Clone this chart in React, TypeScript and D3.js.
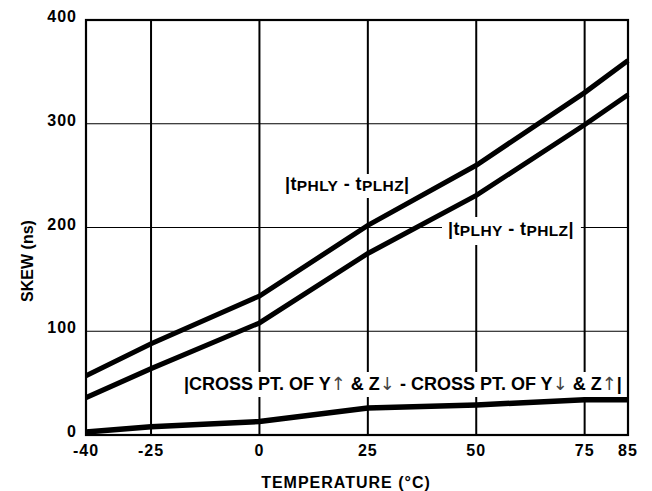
import React, { useEffect, useRef } from "react";
import * as d3 from "d3";

const temps = [-40, -25, 0, 25, 50, 75, 85];
const skewPhlyPlhz = [57, 88, 134, 202, 260, 330, 361];
const skewPlhyPhlz = [36, 64, 108, 175, 231, 299, 328];
const skewCross = [3, 8, 13, 26, 29, 34, 34];
const xTicks = [-40, -25, 0, 25, 50, 75, 85];
const yTicks = [0, 100, 200, 300, 400];
const xGrid = [-25, 0, 25, 50, 75];
const yGrid = [100, 200, 300];
const crossParts: [string, boolean][] = [
  ["|CROSS PT. OF Y", false],
  ["\u2191", true],
  [" & Z", false],
  ["\u2193", true],
  [" - CROSS PT. OF Y", false],
  ["\u2193", true],
  [" & Z", false],
  ["\u2191", true],
  ["|", false],
];

const W = 652;
const H = 491;
const FONT = "'Liberation Sans', Arial, Helvetica, sans-serif";

export default function App() {
  const ref = useRef<SVGSVGElement | null>(null);

  useEffect(() => {
    document.body.style.margin = "0";
    const svg = d3.select(ref.current);
    svg.selectAll("*").remove();

    const x = d3.scaleLinear().domain([-40, 85]).range([86, 628]);
    const y = d3.scaleLinear().domain([0, 400]).range([435, 20]);

    const g = svg.append("g");

    g.selectAll("line.hg")
      .data(yGrid)
      .enter()
      .append("line")
      .attr("x1", x(-40))
      .attr("x2", x(85))
      .attr("y1", (d) => y(d))
      .attr("y2", (d) => y(d))
      .attr("stroke", "#000")
      .attr("stroke-width", 1.2);

    g.selectAll("line.vg")
      .data(xGrid)
      .enter()
      .append("line")
      .attr("x1", (d) => x(d))
      .attr("x2", (d) => x(d))
      .attr("y1", y(400))
      .attr("y2", y(0))
      .attr("stroke", "#000")
      .attr("stroke-width", 2);

    g.append("rect")
      .attr("x", x(-40))
      .attr("y", y(400))
      .attr("width", x(85) - x(-40))
      .attr("height", y(0) - y(400))
      .attr("fill", "none")
      .attr("stroke", "#000")
      .attr("stroke-width", 2.2);

    const labelLayer = svg.append("g");
    const boxLayer = labelLayer.append("g");
    const textLayer = labelLayer.append("g");

    const addSubLabel = (
      tx: number,
      ty: number,
      a: string,
      b: string,
      pad: [number, number, number, number]
    ) => {
      const t = textLayer
        .append("text")
        .attr("x", tx)
        .attr("y", ty)
        .attr("font-family", FONT)
        .attr("font-weight", "bold")
        .attr("font-size", 18)
        .attr("letter-spacing", 0.4)
        .attr("fill", "#000");
      t.append("tspan").text("|t");
      t.append("tspan").attr("font-size", 15.5).attr("dy", 1).text(a);
      t.append("tspan").attr("dy", -1).text(" - t");
      t.append("tspan").attr("font-size", 15.5).attr("dy", 1).text(b);
      t.append("tspan").attr("dy", -1).text("|");
      const bb = (t.node() as SVGTextElement).getBBox();
      boxLayer
        .append("rect")
        .attr("x", bb.x - pad[3])
        .attr("y", bb.y - pad[0])
        .attr("width", bb.width + pad[1] + pad[3])
        .attr("height", bb.height + pad[0] + pad[2])
        .attr("fill", "#fff");
    };

    addSubLabel(285, 190, "PHLY", "PLHZ", [0, 4, 4, 4]);
    addSubLabel(448, 235, "PLHY", "PHLZ", [2, 7, 6, 6]);

    const t3 = textLayer
      .append("text")
      .attr("x", 184)
      .attr("y", 390)
      .attr("font-family", FONT)
      .attr("font-weight", "bold")
      .attr("font-size", 18)
      .attr("fill", "#000");
    crossParts.forEach(([s, arrow]) => {
      const sp = t3.append("tspan").text(s);
      if (arrow) {
        sp.attr("font-family", "'DejaVu Sans', sans-serif")
          .attr("font-weight", "normal")
          .attr("fill", "#444");
      }
    });
    const bb3 = (t3.node() as SVGTextElement).getBBox();
    boxLayer
      .append("rect")
      .attr("x", bb3.x - 4)
      .attr("y", bb3.y - 1)
      .attr("width", bb3.width + 8)
      .attr("height", bb3.height + 4)
      .attr("fill", "#fff");

    const mk = (vals: number[]) =>
      d3
        .line<number>()
        .x((_, i) => x(temps[i]))
        .y((d) => y(d))(vals);

    const lines = svg.append("g");
    [skewPhlyPlhz, skewPlhyPhlz].forEach((vals) => {
      lines
        .append("path")
        .attr("d", mk(vals))
        .attr("fill", "none")
        .attr("stroke", "#000")
        .attr("stroke-width", 5);
    });
    lines
      .append("path")
      .attr("d", mk(skewCross))
      .attr("fill", "none")
      .attr("stroke", "#000")
      .attr("stroke-width", 5.5);

    const ax = svg.append("g").attr("font-family", FONT).attr("font-weight", "bold").attr("font-size", 16);
    ax.selectAll("text.yt")
      .data(yTicks)
      .enter()
      .append("text")
      .attr("x", 77)
      .attr("y", (d) => y(d) + 2)
      .attr("text-anchor", "end")
      .attr("letter-spacing", 1)
      .text((d) => String(d));
    ax.selectAll("text.xt")
      .data(xTicks)
      .enter()
      .append("text")
      .attr("x", (d) => x(d))
      .attr("y", 456)
      .attr("text-anchor", "middle")
      .attr("letter-spacing", 1)
      .text((d) => String(d));

    ax.append("text")
      .attr("x", 346)
      .attr("y", 488)
      .attr("text-anchor", "middle")
      .attr("letter-spacing", 1)
      .text("TEMPERATURE (\u00B0C)");

    ax.append("text")
      .attr("transform", "translate(33,261) rotate(-90)")
      .attr("text-anchor", "middle")
      .text("SKEW (ns)");
  }, []);

  return (
    <svg
      ref={ref}
      width={W}
      height={H}
      viewBox={`0 0 ${W} ${H}`}
      style={{ display: "block", position: "absolute", left: 0, top: 0, background: "#fff" }}
    />
  );
}
